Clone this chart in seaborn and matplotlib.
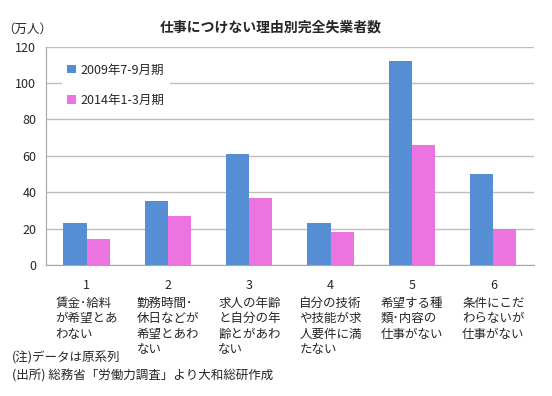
import pandas as pd
import seaborn as sns
import matplotlib.pyplot as plt
from matplotlib.transforms import blended_transform_factory

# データ（万人）
categories = ['1', '2', '3', '4', '5', '6']
reasons = [
    '賃金･給料\nが希望とあ\nわない',
    '勤務時間･\n休日などが\n希望とあわ\nない',
    '求人の年齢\nと自分の年\n齢とがあわ\nない',
    '自分の技術\nや技能が求\n人要件に満\nたない',
    '希望する種\n類･内容の\n仕事がない',
    '条件にこだ\nわらないが\n仕事がない',
]
series_names = ['2009年7-9月期', '2014年1-3月期']
vals_2009 = [23, 35, 61, 23, 112, 50]
vals_2014 = [14, 27, 37, 18, 66, 20]

sns.set_style('white')
plt.rcParams['font.family'] = ['Noto Sans CJK JP', 'DejaVu Sans']

data = pd.DataFrame({
    'cat': categories * 2,
    'value': vals_2009 + vals_2014,
    'period': [series_names[0]] * 6 + [series_names[1]] * 6,
})

fig = plt.figure(figsize=(5.52, 3.96), dpi=100)
ax = fig.add_axes([0.0833, 0.331, 0.884, 0.551])

sns.barplot(data=data, x='cat', y='value', hue='period',
            palette=['#558ed5', '#ec74e0'], width=0.57, saturation=1,
            edgecolor='none', ax=ax)

ax.set_ylim(0, 120)
ax.set_yticks(range(0, 121, 20))
ax.set_xlim(-0.5, 5.5)
ax.set_xlabel('')
ax.set_ylabel('')
ax.yaxis.grid(True, color='#bdbdbd', linewidth=1)
ax.set_axisbelow(True)
for s in ['top', 'right']:
    ax.spines[s].set_visible(False)
for s in ['left', 'bottom']:
    ax.spines[s].set_color('#a6a6a6')
ax.tick_params(axis='y', labelsize=9, length=3, color='#a6a6a6', pad=4)
ax.tick_params(axis='x', labelsize=9, length=0, pad=10)
ax.set_xticks([i - 0.5 for i in range(7)], minor=True)
ax.tick_params(axis='x', which='minor', length=4, color='#a6a6a6')

# カテゴリの説明文
trans = blended_transform_factory(ax.transData, ax.transAxes)
for i, r in enumerate(reasons):
    ax.text(i, -0.145, r, transform=trans, ha='center', va='top',
            multialignment='left', fontsize=9, linespacing=1.25)

ax.legend(loc='upper left', bbox_to_anchor=(0.02, 0.975), fontsize=9,
          frameon=True, facecolor='white', edgecolor='none', framealpha=1,
          handlelength=0.7, handleheight=0.7, handletextpad=0.4,
          labelspacing=1.4, borderpad=0.4, fancybox=False)

fig.text(0.49, 0.93, '仕事につけない理由別完全失業者数', ha='center', va='center',
         fontsize=10, fontweight='bold')
fig.text(0.005, 0.925, '（万人）', ha='left', va='center', fontsize=9)
fig.text(0.022, 0.097, '(注)データは原系列', ha='left', va='center', fontsize=9)
fig.text(0.022, 0.05, '(出所) 総務省「労働力調査」より大和総研作成', ha='left',
         va='center', fontsize=9)

plt.savefig('out.png', dpi=100)
